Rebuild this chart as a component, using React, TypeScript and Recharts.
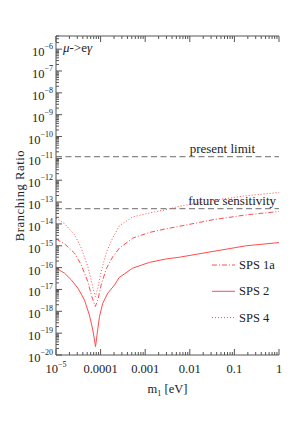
import React from 'react';
import { LineChart, Line, XAxis, YAxis, ReferenceLine, Legend, Customized } from 'recharts';

const FONT = "'Liberation Serif', 'DejaVu Serif', serif";
const RED = '#ff4d4d';
const AXIS = '#555';
const TXT = '#222';

// x axis: m1 [eV]
const xMajorTicks = [1e-5, 1e-4, 1e-3, 1e-2, 0.1, 1];
const xTickLabels = ['10|−5', '0.0001', '0.001', '0.01', '0.1', '1'];

// y axis: branching ratio
const yMajorTicks = [1e-20, 1e-19, 1e-18, 1e-17, 1e-16, 1e-15, 1e-14, 1e-13, 1e-12, 1e-11, 1e-10, 1e-9, 1e-8, 1e-7, 1e-6];
const yTickLabels = ['−20', '−19', '−18', '−17', '−16', '−15', '−14', '−13', '−12', '−11', '−10', '−9', '−8', '−7', '−6'];
const yDomain = [1e-20, 4e-6];
const minorFactors = [2, 3, 4, 5, 6, 7, 8, 9];

// series names and styles
const seriesNames = ['SPS 1a', 'SPS 2', 'SPS 4'];
const seriesDash = ['5 2 1 2', undefined, '1 2'];

// SPS 2 (solid)
const sps2M = [1e-5, 1.55e-5, 2.2e-5, 3.1e-5, 4.35e-5, 5.6e-5, 6.7e-5, 7.7e-5, 8.4e-5, 9.45e-5, 1.12e-4, 1.45e-4, 2.05e-4, 2.6e-4, 5.25e-4, 1.26e-3, 2.95e-3, 5.9e-3, 3.3e-2, 0.184, 1];
const sps2BR = [9.5e-17, 5.6e-17, 2.75e-17, 1.15e-17, 3.3e-18, 6.8e-19, 1.4e-19, 2.4e-20, 1.0e-19, 5.8e-19, 2.35e-18, 6.8e-18, 1.6e-17, 3.5e-17, 9.5e-17, 1.75e-16, 2.5e-16, 3.0e-16, 5.5e-16, 1.0e-15, 1.4e-15];

// SPS 1a (dash-dot)
const sps1aM = [1e-5, 1.55e-5, 2.6e-5, 3.67e-5, 5.16e-5, 6.35e-5, 7.6e-5, 8.65e-5, 1.03e-4, 1.34e-4, 1.88e-4, 2.65e-4, 5.25e-4, 1.26e-3, 2.95e-3, 5.9e-3, 3.3e-2, 0.184, 1];
const sps1aBR = [2.05e-15, 1.23e-15, 4.6e-16, 1.35e-16, 2.3e-17, 4.7e-18, 1.65e-18, 3.3e-18, 1.6e-17, 8.9e-17, 3.2e-16, 7.8e-16, 2.25e-15, 4.1e-15, 6.0e-15, 7.8e-15, 1.55e-14, 2.6e-14, 3.7e-14];

// SPS 4 (dotted)
const sps4M = [1e-5, 1.55e-5, 2.6e-5, 3.67e-5, 5.16e-5, 6.15e-5, 7.05e-5, 7.6e-5, 8.65e-5, 1.03e-4, 1.34e-4, 1.88e-4, 2.65e-4, 5.25e-4, 1.26e-3, 2.95e-3, 5.9e-3, 3.3e-2, 0.184, 1];
const sps4BR = [1.86e-14, 1.02e-14, 3.2e-15, 8.1e-16, 1.12e-16, 2.75e-17, 7.9e-18, 4.7e-18, 1.17e-17, 6.6e-17, 4.8e-16, 2.35e-15, 8.3e-15, 2.1e-14, 3.2e-14, 4.5e-14, 6.5e-14, 1.2e-13, 1.95e-13, 2.75e-13];

// limits
const presentLimit = 1.2e-11;
const futureSensitivity = 5e-14;

const toData = (m: number[], br: number[]) => m.map((v, i) => ({ m: v, br: br[i] }));
const sps1aData = toData(sps1aM, sps1aBR);
const sps2Data = toData(sps2M, sps2BR);
const sps4Data = toData(sps4M, sps4BR);
const seriesData = [sps1aData, sps2Data, sps4Data];

const withMinor = (majors: number[], maxV: number) => {
  const out: number[] = [];
  majors.forEach((mj) => {
    out.push(mj);
    minorFactors.forEach((f) => {
      const v = mj * f;
      if (v <= maxV * 1.0000001) out.push(v);
    });
  });
  return out.filter((v) => v <= maxV * 1.0000001);
};
const xTicks = withMinor(xMajorTicks, 1);
const yTicks = withMinor(yMajorTicks, yDomain[1]);

const majorIndex = (arr: number[], v: number) =>
  arr.findIndex((t) => Math.abs(t - v) / t < 1e-6);

const LeftTick = (props: any) => {
  const { x, y, payload } = props;
  const idx = majorIndex(yMajorTicks, payload.value);
  const major = idx >= 0;
  return (
    <g>
      <line x1={x} x2={x + (major ? 6 : 3)} y1={y} y2={y} stroke={AXIS} strokeWidth={1} />
      {major && (
        <text x={x - 3} y={y + 7} textAnchor="end" fontFamily={FONT} fontSize={12.5} fill={TXT}>
          <tspan>10</tspan>
          <tspan dy={-7} fontSize={8}>{yTickLabels[idx]}</tspan>
        </text>
      )}
    </g>
  );
};

const RightTick = (props: any) => {
  const { x, y, payload } = props;
  const major = majorIndex(yMajorTicks, payload.value) >= 0;
  return <line x1={x} x2={x - (major ? 6 : 3)} y1={y} y2={y} stroke={AXIS} strokeWidth={1} />;
};

const BottomTick = (props: any) => {
  const { x, y, payload } = props;
  const idx = majorIndex(xMajorTicks, payload.value);
  const major = idx >= 0;
  let label: any = null;
  if (major) {
    const parts = xTickLabels[idx].split('|');
    label = (
      <text x={x} y={y + 18} textAnchor="middle" fontFamily={FONT} fontSize={12.5} fill={TXT}>
        <tspan>{parts[0]}</tspan>
        {parts[1] && (
          <tspan dy={-6} fontSize={8}>{parts[1]}</tspan>
        )}
      </text>
    );
  }
  return (
    <g>
      <line x1={x} x2={x} y1={y} y2={y - (major ? 6 : 3)} stroke={AXIS} strokeWidth={1} />
      {label}
    </g>
  );
};

const TopTick = (props: any) => {
  const { x, y, payload } = props;
  const major = majorIndex(xMajorTicks, payload.value) >= 0;
  return <line x1={x} x2={x} y1={y} y2={y + (major ? 6 : 3)} stroke={AXIS} strokeWidth={1} />;
};

const LegendContent = () => (
  <svg width={75} height={75} style={{ display: 'block', overflow: 'visible' }}>
    {seriesNames.map((name, i) => {
      const yy = 10 + i * 26.3;
      return (
        <g key={name}>
          <line x1={7} x2={30} y1={yy} y2={yy} stroke={RED} strokeWidth={1} strokeDasharray={seriesDash[i]} />
          <text x={34} y={yy + 4} fontFamily={FONT} fontSize={12.5} fill={TXT}>{name}</text>
        </g>
      );
    })}
  </svg>
);

const Title = () => (
  <text x={63} y={52} fontFamily={FONT} fontSize={13} fill={TXT}>
    <tspan fontStyle="italic">μ</tspan>
    <tspan>-&gt;e</tspan>
    <tspan fontStyle="italic">γ</tspan>
  </text>
);

const refLabel = (text: string, rightInset: number) => (p: any) => {
  const vb = p.viewBox || {};
  return (
    <text x={vb.x + vb.width - rightInset} y={vb.y - 4} textAnchor="end" fontFamily={FONT} fontSize={13} fill={TXT}>
      {text}
    </text>
  );
};

export default function App() {
  return (
    <div style={{ position: 'absolute', left: 0, top: 0, width: 305, height: 436, background: '#fff' }}>
      <LineChart width={305} height={436} margin={{ top: 35, right: 26, bottom: 51, left: 0 }}>
        <XAxis
          xAxisId="bottom"
          type="number"
          dataKey="m"
          scale="log"
          domain={[1e-5, 1]}
          allowDataOverflow
          ticks={xTicks}
          interval={0}
          tickSize={0}
          tickMargin={0}
          tickLine={false}
          height={30}
          axisLine={{ stroke: AXIS }}
          tick={<BottomTick />}
          label={{
            content: (p: any) => {
              const vb = p.viewBox || {};
              return (
                <text x={vb.x + vb.width / 2} y={vb.y + 38} textAnchor="middle" fontFamily={FONT} fontSize={12.5} fill={TXT}>
                  <tspan>m</tspan>
                  <tspan dy={3} fontSize={8}>1</tspan>
                  <tspan dy={-3}> [eV]</tspan>
                </text>
              );
            },
          }}
        />
        <XAxis
          xAxisId="top"
          orientation="top"
          type="number"
          dataKey="m"
          scale="log"
          domain={[1e-5, 1]}
          allowDataOverflow
          ticks={xTicks}
          interval={0}
          tickSize={0}
          tickMargin={0}
          tickLine={false}
          height={1}
          axisLine={{ stroke: AXIS }}
          tick={<TopTick />}
        />
        <YAxis
          yAxisId="left"
          type="number"
          scale="log"
          domain={yDomain}
          allowDataOverflow
          ticks={yTicks}
          interval={0}
          tickSize={0}
          tickMargin={0}
          tickLine={false}
          width={56}
          axisLine={{ stroke: AXIS }}
          tick={<LeftTick />}
          label={{
            content: (p: any) => {
              const vb = p.viewBox || {};
              const cx = vb.x + 20;
              const cy = vb.y + vb.height / 2;
              return (
                <text x={cx} y={cy} transform={`rotate(-90 ${cx} ${cy})`} textAnchor="middle" dominantBaseline="central" fontFamily={FONT} fontSize={12.5} letterSpacing={0.6} fill={TXT}>
                  Branching Ratio
                </text>
              );
            },
          }}
        />
        <YAxis
          yAxisId="right"
          orientation="right"
          type="number"
          scale="log"
          domain={yDomain}
          allowDataOverflow
          ticks={yTicks}
          interval={0}
          tickSize={0}
          tickMargin={0}
          tickLine={false}
          width={0}
          axisLine={{ stroke: AXIS }}
          tick={<RightTick />}
        />
        <ReferenceLine
          xAxisId="bottom"
          yAxisId="left"
          y={presentLimit}
          stroke="#888"
          strokeWidth={1.2}
          strokeDasharray="6 3.5"
          label={{ content: refLabel('present limit', 24) }}
        />
        <ReferenceLine
          xAxisId="bottom"
          yAxisId="left"
          y={futureSensitivity}
          stroke="#888"
          strokeWidth={1.2}
          strokeDasharray="6 3.5"
          label={{ content: refLabel('future sensitivity', 3) }}
        />
        {seriesData.map((d, i) => (
          <Line
            key={seriesNames[i]}
            xAxisId="bottom"
            yAxisId="left"
            data={d}
            dataKey="br"
            name={seriesNames[i]}
            type="linear"
            stroke={RED}
            strokeWidth={1}
            strokeDasharray={seriesDash[i]}
            dot={false}
            activeDot={false}
            isAnimationActive={false}
          />
        ))}
        <Legend
          layout="vertical"
          align="center"
          verticalAlign="middle"
          content={<LegendContent />}
          wrapperStyle={{ left: 205, top: 255, width: 75, height: 75 }}
        />
        <Customized component={<Title />} />
      </LineChart>
    </div>
  );
}
